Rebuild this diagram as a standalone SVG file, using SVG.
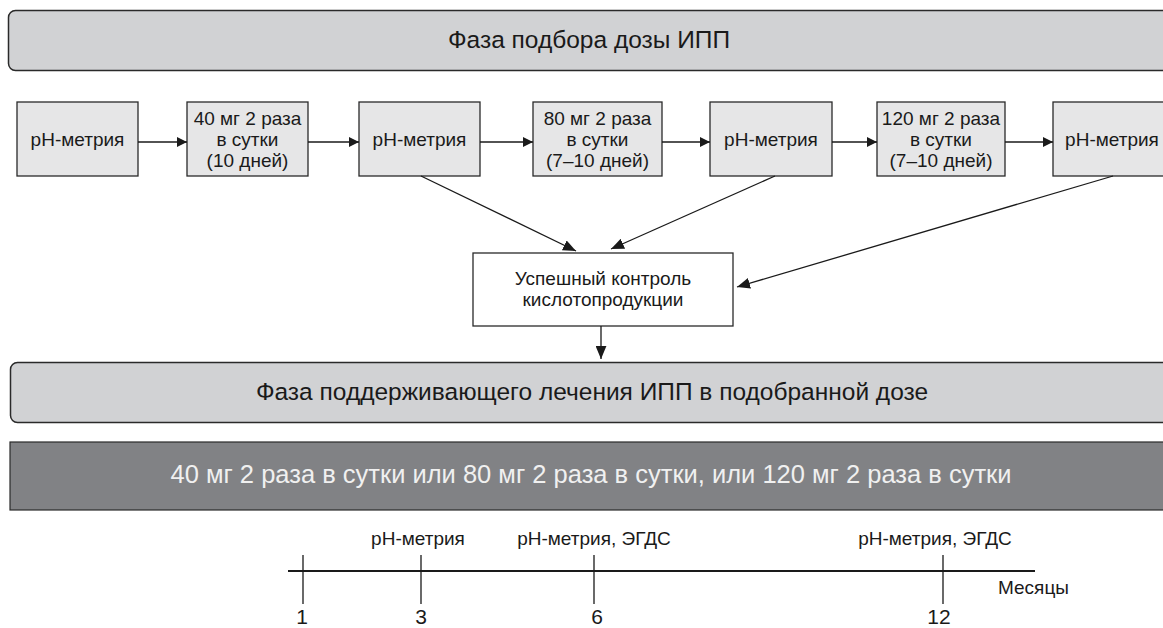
<svg xmlns="http://www.w3.org/2000/svg" width="1163" height="628" viewBox="0 0 1163 628">
<style>
text{font-family:"Liberation Sans",Arial,sans-serif;fill:#1a1a1a}
.phase{fill:#d1d2d4;stroke:#2a2a2a;stroke-width:1.5}
.box{fill:#e6e6e7;stroke:#2a2a2a;stroke-width:1.3}
.wbox{fill:#fff;stroke:#2a2a2a;stroke-width:1.3}
.t15{font-size:19px;text-anchor:middle}
.t18{font-size:24.5px;text-anchor:middle}
.num{font-size:21px;text-anchor:middle}
.c{stroke:#1a1a1a;stroke-width:1.3;fill:none}
</style>
<defs>
<marker id="ah" viewBox="0 0 10 10" refX="10" refY="5" markerWidth="10" markerHeight="10" markerUnits="userSpaceOnUse" orient="auto"><path d="M0,0 L10,5 L0,10 z" fill="#1a1a1a"/></marker>
<marker id="ah2" viewBox="0 0 12 10" refX="12" refY="5" markerWidth="13" markerHeight="11" markerUnits="userSpaceOnUse" orient="auto"><path d="M0,0 L12,5 L0,10 z" fill="#1a1a1a"/></marker>
</defs>
<g id="phase1"><rect class="phase" x="8.5" y="10.5" width="1170" height="60" rx="7"/><text class="t18" x="589" y="48">Фаза подбора дозы ИПП</text></g>
<g id="n1"><rect class="box" x="17" y="102" width="121" height="74"/><text class="t15" x="77.5" y="146">pH-метрия</text></g>
<g id="n2"><rect class="box" x="187" y="102" width="121" height="74"/><text class="t15" x="247.5" y="125">40 мг 2 раза</text><text class="t15" x="247.5" y="146">в сутки</text><text class="t15" x="247.5" y="167">(10 дней)</text></g>
<g id="n3"><rect class="box" x="359" y="102" width="121" height="74"/><text class="t15" x="419.5" y="146">pH-метрия</text></g>
<g id="n4"><rect class="box" x="533" y="102" width="129" height="74"/><text class="t15" x="597.5" y="125">80 мг 2 раза</text><text class="t15" x="597.5" y="146">в сутки</text><text class="t15" x="597.5" y="167">(7–10 дней)</text></g>
<g id="n5"><rect class="box" x="710" y="102" width="122" height="74"/><text class="t15" x="771" y="146">pH-метрия</text></g>
<g id="n6"><rect class="box" x="877" y="102" width="128" height="74"/><text class="t15" x="941" y="125">120 мг 2 раза</text><text class="t15" x="941" y="146">в сутки</text><text class="t15" x="941" y="167">(7–10 дней)</text></g>
<g id="n7"><rect class="box" x="1053" y="102" width="130" height="74"/><text class="t15" x="1112" y="146">pH-метрия</text></g>
<g id="ctrl"><rect class="wbox" x="473" y="253" width="260" height="73"/><text class="t15" x="603" y="285">Успешный контроль</text><text class="t15" x="603" y="306">кислотопродукции</text></g>
<g id="connectors">
<line class="c" x1="138" y1="142" x2="187" y2="142" marker-end="url(#ah)"/>
<line class="c" x1="308" y1="142" x2="359" y2="142" marker-end="url(#ah)"/>
<line class="c" x1="480" y1="142" x2="533" y2="142" marker-end="url(#ah)"/>
<line class="c" x1="662" y1="142" x2="710" y2="142" marker-end="url(#ah)"/>
<line class="c" x1="832" y1="142" x2="877" y2="142" marker-end="url(#ah)"/>
<line class="c" x1="1005" y1="142" x2="1053" y2="142" marker-end="url(#ah)"/>
<line class="c" x1="421" y1="176" x2="576" y2="251" marker-end="url(#ah2)"/>
<line class="c" x1="775" y1="176" x2="611" y2="249" marker-end="url(#ah2)"/>
<line class="c" x1="1113" y1="176" x2="737" y2="287" marker-end="url(#ah2)"/>
<line class="c" x1="601" y1="326" x2="601" y2="359" marker-end="url(#ah2)"/>
</g>
<g id="phase2"><rect class="phase" x="10.5" y="362.5" width="1170" height="60" rx="7"/><text class="t18" x="592" y="400">Фаза поддерживающего лечения ИПП в подобранной дозе</text></g>
<g id="dose"><rect x="10" y="442" width="1170" height="68" fill="#818285" stroke="#2a2a2a" stroke-width="1.2"/><text x="591" y="483" style="fill:#f0f0f0;font-size:25.5px;text-anchor:middle">40 мг 2 раза в сутки или 80 мг 2 раза в сутки, или 120 мг 2 раза в сутки</text></g>
<g id="timeline">
<line x1="288" y1="571" x2="1035" y2="571" stroke="#1a1a1a" stroke-width="2.2"/>
<line x1="303" y1="555" x2="303" y2="604" stroke="#1a1a1a" stroke-width="1.3"/>
<line x1="421" y1="555" x2="421" y2="604" stroke="#1a1a1a" stroke-width="1.3"/>
<line x1="594" y1="555" x2="594" y2="604" stroke="#1a1a1a" stroke-width="1.3"/>
<line x1="943" y1="555" x2="943" y2="604" stroke="#1a1a1a" stroke-width="1.3"/>
<text class="t15" x="418" y="545">pH-метрия</text>
<text class="t15" x="594" y="545">pH-метрия, ЭГДС</text>
<text class="t15" x="935" y="545">pH-метрия, ЭГДС</text>
<text x="998" y="594" style="font-size:19px">Месяцы</text>
<text class="num" x="302" y="624">1</text>
<text class="num" x="421" y="624">3</text>
<text class="num" x="597" y="624">6</text>
<text class="num" x="939" y="624">12</text>
</g>
</svg>
